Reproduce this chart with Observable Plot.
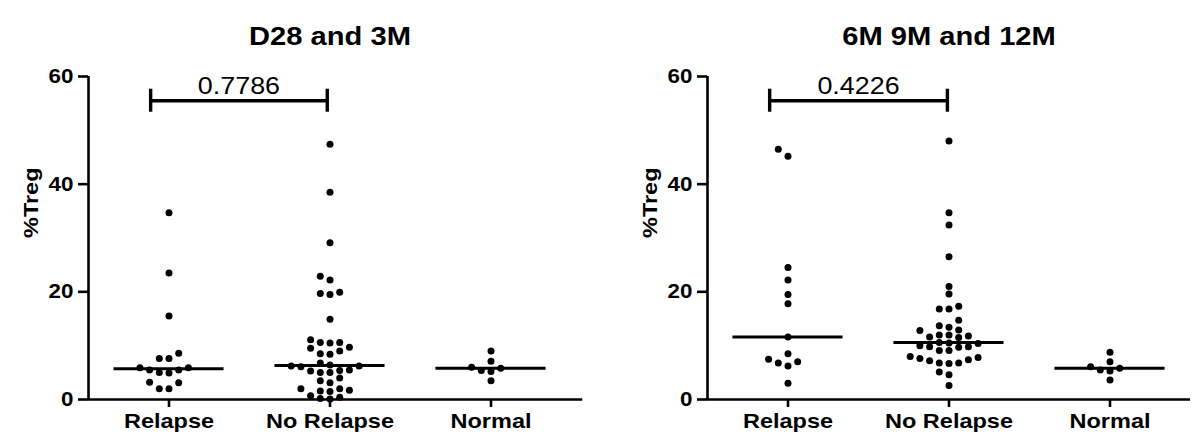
<!DOCTYPE html>
<html>
<head>
<meta charset="utf-8">
<script src="https://cdn.jsdelivr.net/npm/d3@7"></script>
<script src="https://cdn.jsdelivr.net/npm/@observablehq/plot@0.6"></script>
<style>
  body { margin: 0; background: #fff; font-family: "Liberation Sans", Arial, sans-serif; }
  #row { display: flex; width: 1198px; height: 436px; overflow: hidden; }
  .panel { position: relative; width: 599px; height: 436px; flex: none; }
  .title {
    position: absolute; top: 21px; font-weight: bold; font-size: 26px; white-space: nowrap;
    transform: translateX(-50%) scaleX(1.12); color: #000;
  }
  .panel svg { position: absolute; left: 0; top: 58px; overflow: visible; }
</style>
</head>
<body>
<div id="row"></div>
<script>
// Groups along the x axis
const categories = ["Relapse", "No Relapse", "Normal"];
const yTicks = [0, 20, 40, 60];

// %Treg, D28 and 3M
const d28Relapse = [34.7, 23.5, 15.5, 8.6, 7.6, 7.6, 5.9, 5.5, 5.0, 4.9, 5.5, 5.9, 3.2, 3.1, 2.0, 2.0];
const d28NoRelapse = [47.4, 38.5, 29.1, 22.9, 22.2, 19.9, 19.7, 19.5, 14.9, 11.1, 10.6, 10.5, 10.6,
  9.7, 9.5, 9.0, 8.5, 8.4, 6.8, 6.4, 6.2, 6.2, 6.1, 5.5, 5.4, 5.3, 5.0, 5.0, 4.0, 3.5, 3.1,
  2.0, 2.0, 1.7, 1.6, 1.5, 0.7, 0.4, 0.2, 0.1];
const d28Normal = [9.0, 7.1, 6.0, 5.8, 5.4, 5.2, 3.5];

// %Treg, 6M 9M and 12M
const m6Relapse = [46.5, 45.2, 24.5, 22.2, 19.5, 17.8, 11.6, 8.5, 7.5, 7.0, 6.8, 6.2, 3.0];
const m6NoRelapse = [48.0, 34.7, 32.4, 26.5, 21.0, 19.6, 17.3, 16.8, 16.8, 14.7, 13.7, 13.4, 12.9,
  12.8, 12.0, 12.0, 11.8, 11.6, 11.5, 10.6, 10.4, 10.0, 10.5, 9.8, 9.8, 9.7, 9.1, 9.1, 8.0, 7.8,
  7.6, 7.4, 7.2, 6.8, 6.8, 6.7, 5.1, 4.6, 2.6];
const m6Normal = [8.8, 7.0, 6.1, 5.8, 5.5, 5.3, 3.6];

// Comparison brackets (p values between Relapse and No Relapse)
const d28Bracket = {x1: 0.886, x2: 1.983, y: 55.5, label: "0.7786"};
const m6Bracket = {x1: 0.886, x2: 1.99, y: 55.5, label: "0.4226"};

const STRETCH = 1.12;   // horizontal text stretch
const DOT_R = 3.5;

// Simple column beeswarm: each point takes the nearest free column around its group centre
function swarm(values, center, pxPerX, pxPerY) {
  const step = 9.7, minGap = 7.2;
  const placed = [];
  const order = values.map((_, i) => i).sort((a, b) => values[a] - values[b]);
  const out = [];
  for (const i of order) {
    const v = values[i];
    for (let k = 0; ; k++) {
      const col = k === 0 ? 0 : (k % 2 ? -Math.ceil(k / 2) : k / 2);
      if (!placed.some(p => p.col === col && Math.abs(p.v - v) * pxPerY < minGap)) {
        placed.push({col, v});
        out.push({x: center + col * step / pxPerX, y: v});
        break;
      }
    }
  }
  return out;
}

function panel({title, groups, bracket, marginLeft, xDomain}) {
  const W = 599, H = 378, marginTop = 18, marginBottom = 37;
  const marginRight = W - marginLeft - 161 * (xDomain[1] - xDomain[0]);
  const pxPerX = (W - marginLeft - marginRight) / (xDomain[1] - xDomain[0]);
  const pxPerY = (H - marginTop - marginBottom) / (yTicks[yTicks.length - 1] - yTicks[0]);

  const points = groups.flatMap((vals, i) => swarm(vals, i + 1, pxPerX, pxPerY));
  const medians = groups.map((vals, i) => ({x1: i + 1 - 0.342, x2: i + 1 + 0.342, y: d3.median(vals)}));
  const caps = [{x: bracket.x1, y: bracket.y}, {x: bracket.x2, y: bracket.y}];

  const chart = Plot.plot({
    width: W, height: H, marginLeft, marginRight, marginTop, marginBottom,
    style: {fontFamily: "'Liberation Sans', Arial, sans-serif", color: "#000", background: "transparent"},
    x: {domain: xDomain, axis: null},
    y: {domain: [yTicks[0], yTicks[yTicks.length - 1]], axis: null},
    marks: [
      Plot.axisY({ticks: yTicks, tickSize: 10, tickPadding: 5, fontSize: 20, fontWeight: "bold",
        strokeWidth: 2.6, label: null}),
      Plot.axisX({ticks: [1, 2, 3], tickFormat: d => categories[d - 1], tickSize: 8, tickPadding: 6,
        fontSize: 21, fontWeight: "bold", strokeWidth: 2.6, label: null}),
      Plot.ruleY([yTicks[0]], {strokeWidth: 2.6}),
      Plot.ruleX([xDomain[0]], {y1: yTicks[0], y2: yTicks[yTicks.length - 1], strokeWidth: 2.6}),
      Plot.text(["%Treg"], {frameAnchor: "left", rotate: -90, dx: -57, fontSize: 21, fontWeight: "bold"}),
      Plot.ruleY(medians, {x1: "x1", x2: "x2", y: "y", strokeWidth: 3}),
      Plot.dot(points, {x: "x", y: "y", r: DOT_R, fill: "#000", stroke: null}),
      Plot.ruleY([bracket], {x1: "x1", x2: "x2", y: "y", strokeWidth: 3.6}),
      Plot.ruleX(caps, {x: "x", y1: "y", y2: "y", insetTop: -11.5, insetBottom: -11.5, strokeWidth: 3.4}),
      Plot.text([bracket], {x: d => (d.x1 + d.x2) / 2, y: "y", text: "label", lineAnchor: "bottom",
        dy: -7, fontSize: 24, fontWeight: "normal"})
    ]
  });

  // widen lettering a little
  chart.querySelectorAll("text").forEach(t => {
    const tr = t.getAttribute("transform");
    if (tr) t.setAttribute("transform", tr + ` scale(${STRETCH},1)`);
  });

  const div = document.createElement("div");
  div.className = "panel";
  const h = document.createElement("div");
  h.className = "title";
  h.textContent = title;
  h.style.left = chart.scale("x").apply(2) + "px";
  div.appendChild(h);
  div.appendChild(chart);
  return div;
}

const row = document.getElementById("row");
row.appendChild(panel({
  title: "D28 and 3M",
  groups: [d28Relapse, d28NoRelapse, d28Normal],
  bracket: d28Bracket,
  marginLeft: 88,
  xDomain: [0.5, 3.57]
}));
row.appendChild(panel({
  title: "6M 9M and 12M",
  groups: [m6Relapse, m6NoRelapse, m6Normal],
  bracket: m6Bracket,
  marginLeft: 108,
  xDomain: [0.5, 3.5]
}));
</script>
</body>
</html>
